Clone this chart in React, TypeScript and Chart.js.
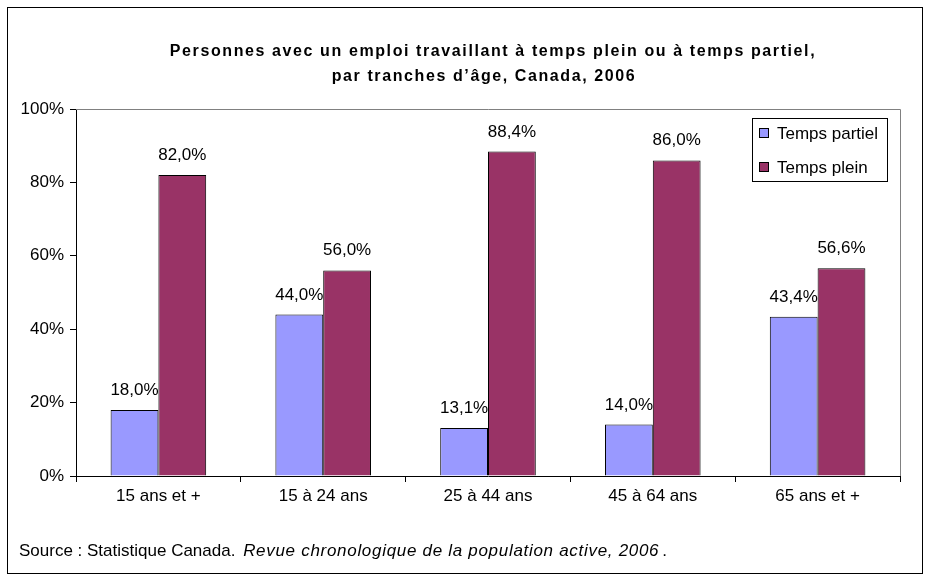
import React, { useEffect, useRef } from "react";
import { Chart, registerables } from "chart.js";

Chart.register(...registerables);

const categories = ["15 ans et +", "15 à 24 ans", "25 à 44 ans", "45 à 64 ans", "65 ans et +"];
const partTime = [18.0, 44.0, 13.1, 14.0, 43.4];
const fullTime = [82.0, 56.0, 88.4, 86.0, 56.6];
const seriesNames = ["Temps partiel", "Temps plein"];
const seriesColors = ["#9999FF", "#993366"];
const titleLines = [
  "Personnes avec un emploi travaillant à temps plein ou à temps partiel,",
  "par tranches d’âge, Canada, 2006",
];
const sourcePlain = "Source : Statistique Canada. ";
const sourceItalic = "Revue chronologique de la population active, 2006";
const sourceEnd = ".";

const FONT = "Arial, 'Liberation Sans', sans-serif";

const fmt = (v: number) => v.toFixed(1).replace(".", ",") + "%";

const decorPlugin = {
  id: "decor",
  beforeDatasetsDraw(chart: any) {
    const { ctx, chartArea } = chart;
    ctx.save();
    ctx.strokeStyle = "#808080";
    ctx.lineWidth = 1;
    ctx.beginPath();
    ctx.moveTo(chartArea.left, chartArea.top + 0.5);
    ctx.lineTo(chartArea.right + 0.5, chartArea.top + 0.5);
    ctx.lineTo(chartArea.right + 0.5, chartArea.bottom);
    ctx.stroke();
    ctx.restore();
  },
  afterDatasetsDraw(chart: any) {
    const { ctx } = chart;
    ctx.save();
    ctx.font = `17px ${FONT}`;
    ctx.fillStyle = "#000";
    ctx.textAlign = "center";
    ctx.textBaseline = "alphabetic";
    chart.data.datasets.forEach((ds: any, di: number) => {
      const meta = chart.getDatasetMeta(di);
      meta.data.forEach((bar: any, i: number) => {
        ctx.fillText(fmt(ds.data[i]), bar.x, bar.y - 15);
      });
    });
    ctx.restore();
  },
  afterDraw(chart: any) {
    const { ctx } = chart;
    ctx.save();
    // outer border
    ctx.strokeStyle = "#000";
    ctx.lineWidth = 1;
    ctx.strokeRect(7.5, 7.5, 915, 566);
    // title
    ctx.fillStyle = "#000";
    ctx.font = `bold 16px ${FONT}`;
    (ctx as any).letterSpacing = "1.6px";
    ctx.textAlign = "center";
    ctx.textBaseline = "alphabetic";
    ctx.fillText(titleLines[0], 493, 56);
    ctx.fillText(titleLines[1], 484, 81);
    (ctx as any).letterSpacing = "0px";
    // legend
    ctx.strokeRect(752.5, 118.5, 135, 63);
    ctx.font = `17px ${FONT}`;
    ctx.textAlign = "left";
    const ys = [139, 173];
    seriesNames.forEach((n, i) => {
      ctx.fillStyle = seriesColors[i];
      ctx.fillRect(759, ys[i] - 11, 10, 10);
      ctx.strokeStyle = "#000";
      ctx.strokeRect(759.5, ys[i] - 10.5, 9, 9);
      ctx.fillStyle = "#000";
      ctx.fillText(n, 777, ys[i]);
    });
    // source
    ctx.font = `17px ${FONT}`;
    let x = 19;
    ctx.fillText(sourcePlain, x, 556);
    x += ctx.measureText(sourcePlain).width + 3;
    ctx.font = `italic 17px ${FONT}`;
    (ctx as any).letterSpacing = "0.7px";
    ctx.fillText(sourceItalic, x, 556);
    x += ctx.measureText(sourceItalic).width + 3;
    (ctx as any).letterSpacing = "0px";
    ctx.font = `17px ${FONT}`;
    ctx.fillText(sourceEnd, x, 556);
    ctx.restore();
  },
};

export default function App() {
  const ref = useRef<HTMLCanvasElement>(null);
  useEffect(() => {
    const canvas = ref.current!;
    const chart = new Chart(canvas, {
      type: "bar",
      data: {
        labels: categories,
        datasets: [
          {
            label: seriesNames[0],
            data: partTime,
            backgroundColor: seriesColors[0],
            borderColor: "#000",
            borderWidth: 1,
            borderSkipped: "start",
            categoryPercentage: 0.58,
            barPercentage: 1.0,
          },
          {
            label: seriesNames[1],
            data: fullTime,
            backgroundColor: seriesColors[1],
            borderColor: "#000",
            borderWidth: 1,
            borderSkipped: "start",
            categoryPercentage: 0.58,
            barPercentage: 1.0,
          },
        ],
      },
      options: {
        responsive: false,
        animation: false,
        devicePixelRatio: 1,
        layout: { padding: { top: 109, right: 30, left: 0, bottom: 0 } },
        plugins: {
          legend: { display: false },
          title: { display: false },
          tooltip: { enabled: false },
        },
        scales: {
          x: {
            afterFit: (s: any) => {
              s.height = 105;
            },
            grid: {
              offset: true,
              drawOnChartArea: false,
              drawTicks: true,
              tickLength: 6,
              color: "#000",
            },
            border: { display: true, color: "#000", width: 1 },
            ticks: {
              color: "#000",
              font: { family: FONT, size: 17 },
              padding: 4,
              maxRotation: 0,
            },
          },
          y: {
            min: 0,
            max: 100,
            afterFit: (s: any) => {
              s.width = 76;
            },
            grid: {
              drawOnChartArea: false,
              drawTicks: true,
              tickLength: 6,
              color: "#000",
            },
            border: { display: true, color: "#000", width: 1 },
            ticks: {
              stepSize: 20,
              color: "#000",
              font: { family: FONT, size: 17 },
              padding: 6,
              callback: (v: any) => v + "%",
            },
          },
        },
      },
      plugins: [decorPlugin],
    });
    return () => chart.destroy();
  }, []);
  return (
    <div style={{ position: "absolute", left: 0, top: 0, width: 930, height: 581, background: "#fff" }}>
      <canvas ref={ref} width={930} height={581} style={{ display: "block" }} />
    </div>
  );
}
